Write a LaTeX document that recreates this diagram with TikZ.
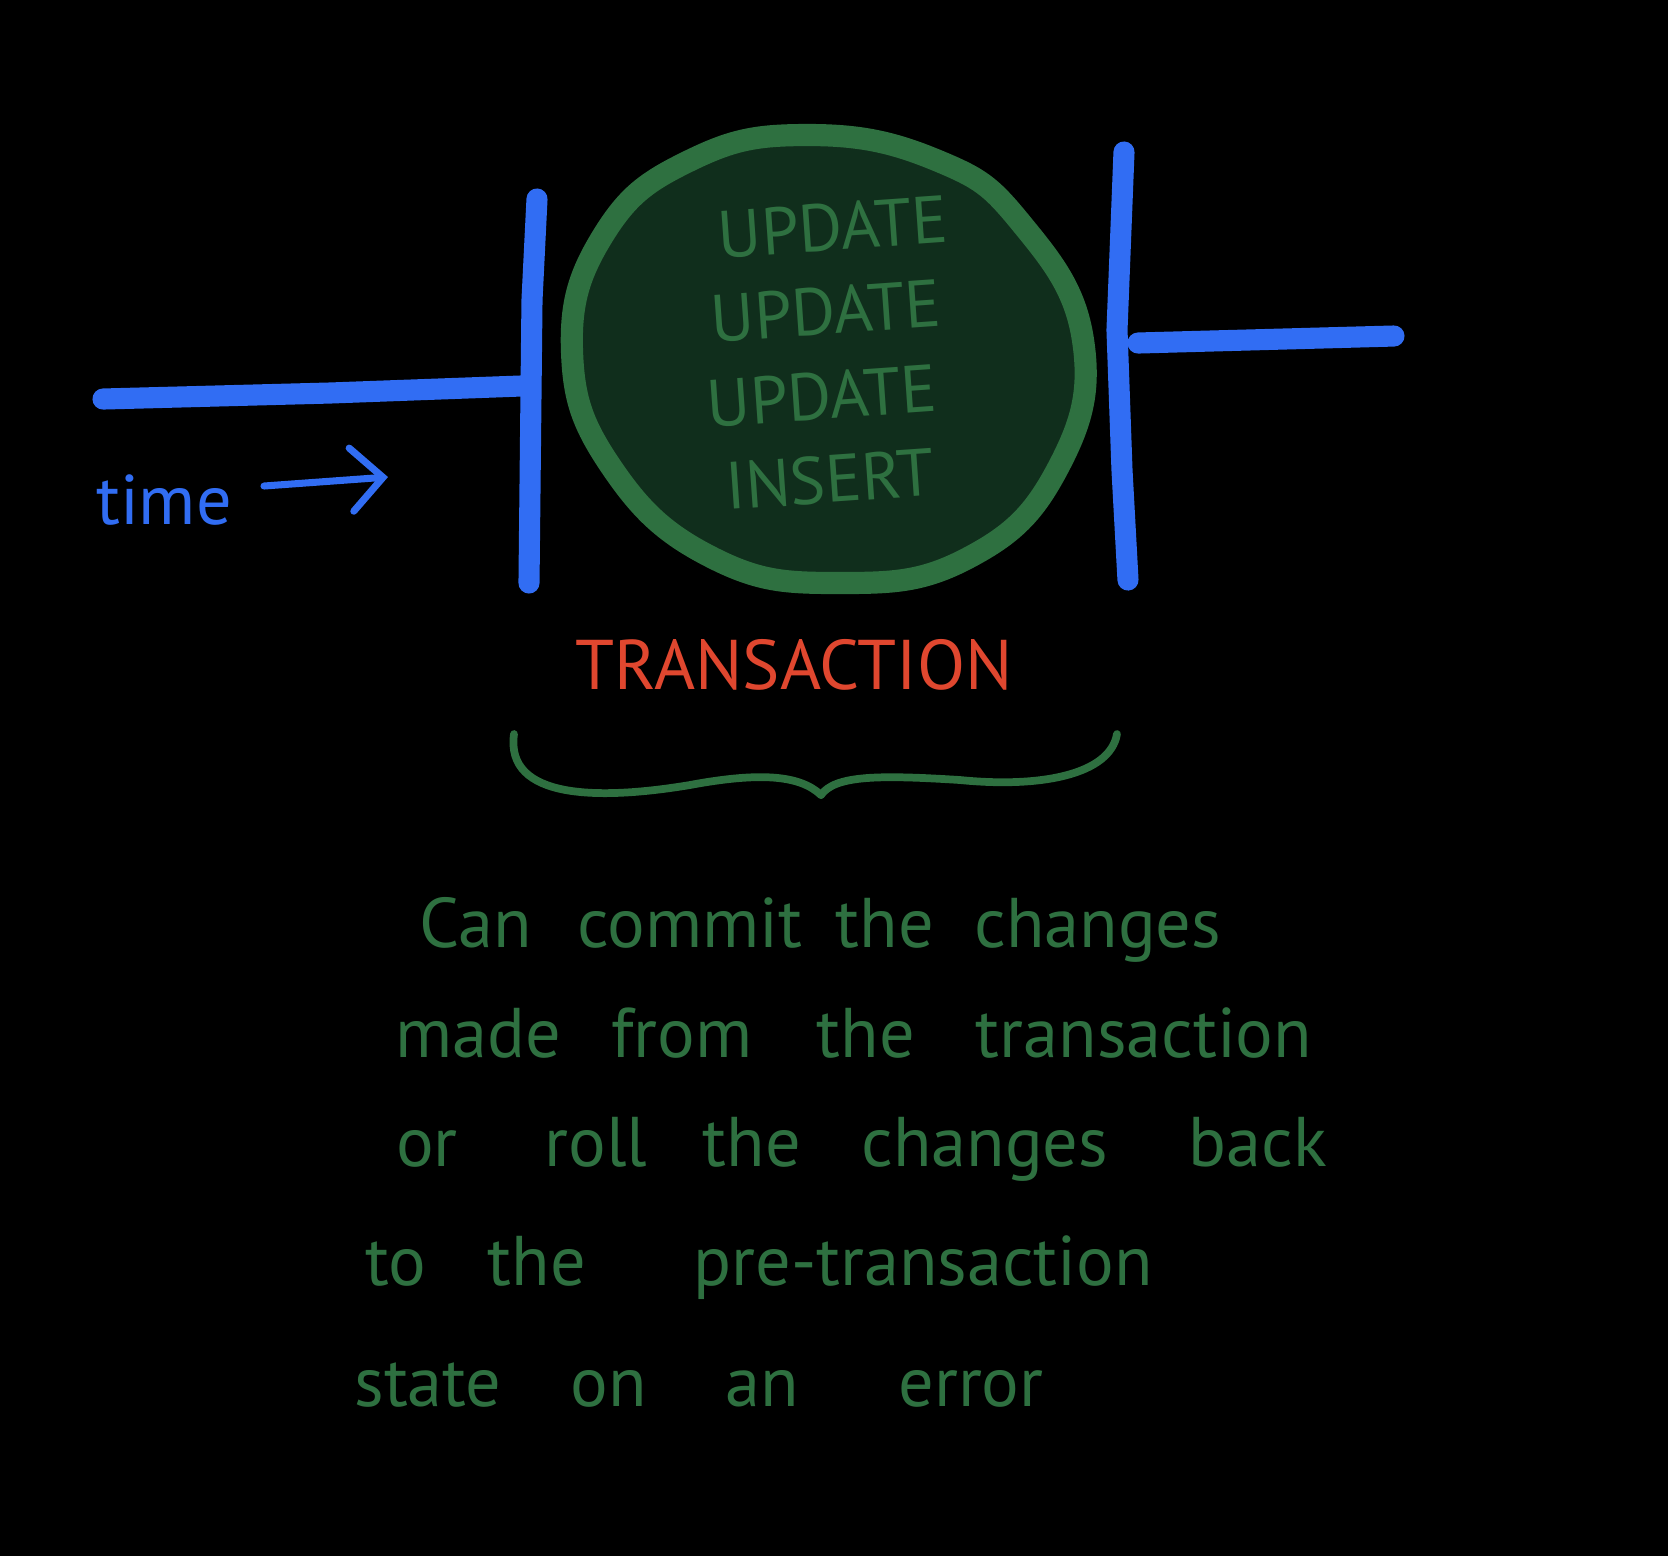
\documentclass[tikz,border=0pt]{standalone}
\usepackage{fontspec}
\setmainfont{PT Sans}
\usepackage{tikz}
\usetikzlibrary{arrows.meta}
\definecolor{Ink}{HTML}{316DF3}
\definecolor{Leaf}{HTML}{2E7040}
\definecolor{LeafDark}{HTML}{102E1C}
\definecolor{Brick}{HTML}{E0472F}
\tikzset{
  pen/.style={line width=6pt, line cap=round, line join=round, color=Ink},
  thinpen/.style={line width=2pt, line cap=round, line join=round},
  word/.style={anchor=base, inner sep=0pt, text=Leaf,
    font=\fontsize{20}{24}\selectfont},
  op/.style={inner sep=0pt, text=Leaf, rotate=4,
    font=\fontsize{19}{23}\selectfont},
}

\begin{document}
\begin{tikzpicture}[x=0.01cm, y=-0.01cm]

\fill[black] (0,0) rectangle (1668,1556);

% time line and the two bars
\coordinate (lstart) at (103,399);
\coordinate (ljoin)  at (521,386);
\coordinate (lbtop)  at (537,199);
\coordinate (lbbot)  at (529,583);
\coordinate (rbtop)  at (1124,152);
\coordinate (rbbot)  at (1128,580);
\coordinate (rjoin)  at (1138,343);
\coordinate (rend)   at (1394,336);

\draw[pen] (lstart) -- (330,393) -- (ljoin);
\draw[pen] (lbtop) -- (532,300) -- (lbbot);
\draw[pen] (rbtop) -- (1117,330) -- (1122,470) -- (rbbot);
\draw[pen] (rjoin) -- (rend);

\node[inner sep=0pt, text=Ink, font=\fontsize{20}{24}\selectfont] (time) at (164,500) {time};
\coordinate (tail) at (264,486);
\coordinate (head) at (388,477);
\draw[thinpen, Ink, -{Straight Barb[length=9pt, width=18pt, line cap=round]}] (tail) -- (head);

% the transaction blob
\draw[line width=6.3pt, draw=Leaf, fill=LeafDark]
  plot[smooth cycle, tension=0.75] coordinates {
    (808,135) (936,160) (1021,223) (1083,340) (1058,468) (968,558)
    (840,583) (713,558) (612,468) (572,351) (604,234) (691,160)};

\node[op] (up1) at (833,227) {UPDATE};
\node[op] (up2) at (826,311) {UPDATE};
\node[op] (up3) at (822,396) {UPDATE};
\node[op] (ins) at (830,479) {INSERT};

\node[inner sep=0pt, text=Brick, font=\fontsize{20}{24}\selectfont] (tx) at (794,665) {TRANSACTION};

% brace
\coordinate (bl) at (514,734);
\coordinate (bm) at (821,795);
\coordinate (br) at (1117,734);
\draw[thinpen, Leaf, line width=2.2pt]
  (bl) .. controls (505,800) and (600,800) .. (690,785)
       .. controls (760,772) and (800,775) .. (bm);
\draw[thinpen, Leaf, line width=2.2pt]
  (bm) .. controls (835,775) and (880,775) .. (960,780)
       .. controls (1040,788) and (1110,775) .. (br);

% note
\node[word] (can)     at (476,947)  {Can};
\node[word] (commit)  at (690,947)  {commit};
\node[word] (theA)    at (885,947)  {the};
\node[word] (chgA)    at (1098,947) {changes};

\node[word] (made)    at (478,1057) {made};
\node[word] (from)    at (682,1057) {from};
\node[word] (theB)    at (866,1057) {the};
\node[word] (trans)   at (1144,1057) {transaction};

\node[word] (or)      at (427,1166) {or};
\node[word] (roll)    at (596,1166) {roll};
\node[word] (theC)    at (752,1166) {the};
\node[word] (chgB)    at (985,1166) {changes};
\node[word] (back)    at (1258,1166) {back};

\node[word] (to)      at (396,1285) {to};
\node[word] (theD)    at (537,1285) {the};
\node[word] (pretx)   at (923,1285) {pre-transaction};

\node[word] (state)   at (428,1406) {state};
\node[word] (on)      at (609,1406) {on};
\node[word] (an)      at (762,1406) {an};
\node[word] (error)   at (971,1406) {error};

\end{tikzpicture}
\end{document}
